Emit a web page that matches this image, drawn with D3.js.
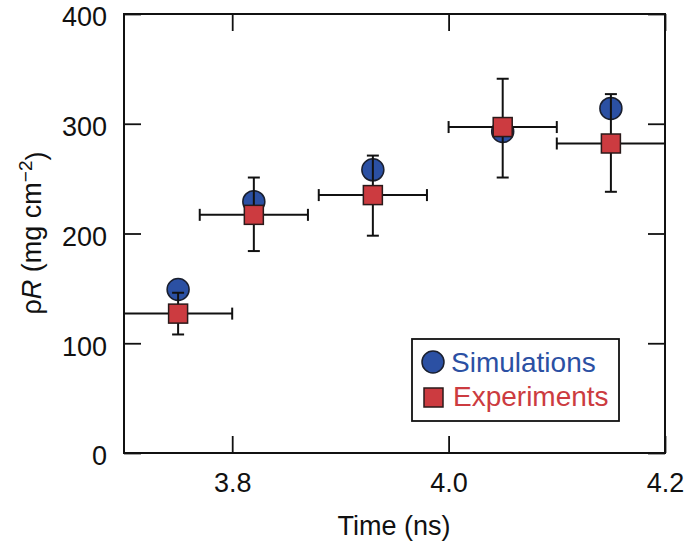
<!DOCTYPE html>
<html>
<head>
<meta charset="utf-8">
<script src="https://cdn.jsdelivr.net/npm/d3@7"></script>
<style>
  body { margin: 0; background: #fff; }
  text { font-family: "Liberation Sans", Arial, Helvetica, sans-serif; }
</style>
</head>
<body>
<div id="chart"></div>
<script>
const svgWidth = 685
const svgHeight = 543

// data
const times = [3.75, 3.82, 3.93, 4.05, 4.15]
const simValues = [149, 229, 258, 293, 314]
const expValues = [127, 217, 235, 297, 282]
const expLow = [108, 184, 198, 251, 238]
const expHigh = [146, 251, 271, 341, 327]
const timeLow = [3.70, 3.77, 3.88, 4.00, 4.10]
const timeHigh = [3.80, 3.87, 3.98, 4.10, 4.20]
const xTicks = [3.8, 4.0, 4.2]
const yTicks = [0, 100, 200, 300, 400]

const blue = "#2b50a3"
const red = "#cc3b40"

let svg = d3.select("#chart")
  .append("svg")
  .attr("width", svgWidth)
  .attr("height", svgHeight)

let x = d3.scaleLinear().domain([3.7, 4.2]).range([124, 665])
let y = d3.scaleLinear().domain([0, 400]).range([453, 14])

let points = times.map((t, i) => ({
  t: t, sim: simValues[i], exp: expValues[i],
  lo: expLow[i], hi: expHigh[i], tlo: timeLow[i], thi: timeHigh[i]
}))

// axes, ticks pointing inward
let xAxisBottom = svg.append("g")
  .attr("transform", `translate(0, ${y(0)})`)
  .call(d3.axisBottom(x).tickValues(xTicks).tickSize(-17).tickPadding(20).tickFormat(d3.format(".1f")))
let xAxisTop = svg.append("g")
  .attr("transform", `translate(0, ${y(400)})`)
  .call(d3.axisTop(x).tickValues(xTicks).tickSize(-17).tickFormat(""))
let yAxisLeft = svg.append("g")
  .attr("transform", `translate(${x(3.7)}, 0)`)
  .call(d3.axisLeft(y).tickValues(yTicks).tickSize(-17).tickPadding(17))
let yAxisRight = svg.append("g")
  .attr("transform", `translate(${x(4.2)}, 0)`)
  .call(d3.axisRight(y).tickValues(yTicks).tickSize(-17).tickFormat(""))

svg.selectAll(".domain").remove()
svg.selectAll(".tick line").attr("stroke", "#111").attr("stroke-width", 1.8)
svg.selectAll(".tick text")
  .attr("fill", "#111")
  .style("font-size", "27px")
yAxisLeft.selectAll(".tick text").attr("dy", "0.44em")

svg.append("rect")
  .attr("x", x(3.7))
  .attr("y", y(400))
  .attr("width", x(4.2) - x(3.7))
  .attr("height", y(0) - y(400))
  .attr("fill", "none")
  .attr("stroke", "#111")
  .attr("stroke-width", 2)

// simulation circles
svg.selectAll(".sim")
  .data(points)
  .enter()
  .append("circle")
  .attr("class", "sim")
  .attr("cx", d => x(d.t))
  .attr("cy", d => y(d.sim))
  .attr("r", 11)
  .attr("fill", blue)
  .attr("stroke", "#1a1f2e")
  .attr("stroke-width", 1.5)

// error bars for experiments
let bars = svg.selectAll(".err")
  .data(points)
  .enter()
  .append("g")
  .attr("class", "err")
  .attr("stroke", "#111")
  .attr("stroke-width", 2)
bars.append("line")
  .attr("x1", d => x(d.t)).attr("x2", d => x(d.t))
  .attr("y1", d => y(d.lo)).attr("y2", d => y(d.hi))
bars.append("line")
  .attr("x1", d => x(d.t) - 6).attr("x2", d => x(d.t) + 6)
  .attr("y1", d => y(d.lo)).attr("y2", d => y(d.lo))
bars.append("line")
  .attr("x1", d => x(d.t) - 6).attr("x2", d => x(d.t) + 6)
  .attr("y1", d => y(d.hi)).attr("y2", d => y(d.hi))
bars.append("line")
  .attr("x1", d => x(d.tlo)).attr("x2", d => x(d.thi))
  .attr("y1", d => y(d.exp)).attr("y2", d => y(d.exp))
bars.append("line")
  .attr("x1", d => x(d.tlo)).attr("x2", d => x(d.tlo))
  .attr("y1", d => y(d.exp) - 6).attr("y2", d => y(d.exp) + 6)
bars.append("line")
  .attr("x1", d => x(d.thi)).attr("x2", d => x(d.thi))
  .attr("y1", d => y(d.exp) - 6).attr("y2", d => y(d.exp) + 6)

// experiment squares
svg.selectAll(".exp")
  .data(points)
  .enter()
  .append("rect")
  .attr("class", "exp")
  .attr("x", d => x(d.t) - 9.5)
  .attr("y", d => y(d.exp) - 9.5)
  .attr("width", 19)
  .attr("height", 19)
  .attr("fill", red)
  .attr("stroke", "#2a1a1a")
  .attr("stroke-width", 1.5)

// axis titles
svg.append("text")
  .attr("x", 394)
  .attr("y", 535)
  .attr("text-anchor", "middle")
  .style("font-size", "27px")
  .attr("fill", "#111")
  .text("Time (ns)")

let yTitle = svg.append("text")
  .attr("transform", "translate(41, 233) rotate(-90)")
  .attr("text-anchor", "middle")
  .style("font-size", "27px")
  .attr("fill", "#111")
yTitle.append("tspan").text("ρ")
yTitle.append("tspan").style("font-style", "italic").text("R")
yTitle.append("tspan").text(" (mg cm")
yTitle.append("tspan").attr("dy", "-0.45em").style("font-size", "19px").text("−2")
yTitle.append("tspan").attr("dy", "0.45em").text(")")

// legend
let legend = svg.append("g")
legend.append("rect")
  .attr("x", 412).attr("y", 339)
  .attr("width", 207).attr("height", 82)
  .attr("fill", "#fff")
  .attr("stroke", "#111")
  .attr("stroke-width", 1.8)
legend.append("circle")
  .attr("cx", 433).attr("cy", 362).attr("r", 11)
  .attr("fill", blue).attr("stroke", "#1a1f2e").attr("stroke-width", 1.5)
legend.append("text")
  .attr("x", 451).attr("y", 372)
  .style("font-size", "28px")
  .attr("fill", blue)
  .text("Simulations")
legend.append("rect")
  .attr("x", 424).attr("y", 388).attr("width", 19).attr("height", 19)
  .attr("fill", red).attr("stroke", "#2a1a1a").attr("stroke-width", 1.5)
legend.append("text")
  .attr("x", 453).attr("y", 406)
  .style("font-size", "28px")
  .attr("fill", red)
  .text("Experiments")
</script>
</body>
</html>
